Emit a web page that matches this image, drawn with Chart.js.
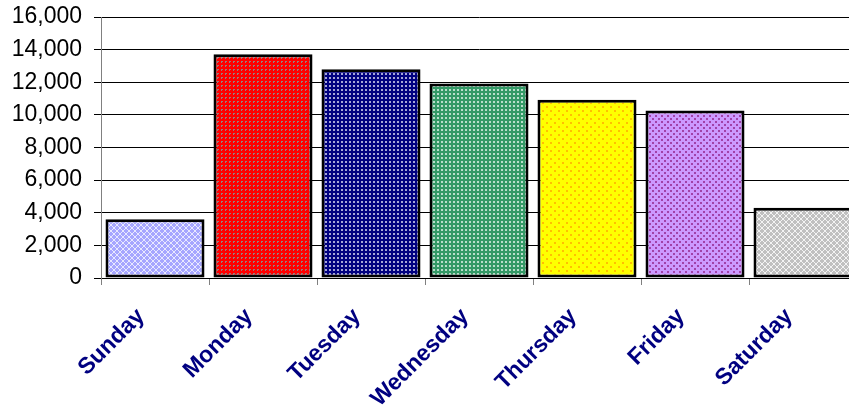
<!DOCTYPE html>
<html>
<head>
<meta charset="utf-8">
<script src="https://cdn.jsdelivr.net/npm/chart.js@4.4.0/dist/chart.umd.min.js"></script>
<style>
html,body{margin:0;padding:0;overflow:hidden;background:#fff;width:849px;height:410px;}
canvas{display:block;}
</style>
</head>
<body>
<canvas id="c" width="870" height="410" style="width:870px;height:410px"></canvas>
<script>
const categories = ["Sunday","Monday","Tuesday","Wednesday","Thursday","Friday","Saturday"];
const values = [3600, 13720, 12800, 11920, 10920, 10270, 4300];
const yTicks = [0, 2000, 4000, 6000, 8000, 10000, 12000, 14000, 16000];
const baseColors = ["#A6A6FF","#FF0000","#000080","#339966","#FFFF00","#CC99FF","#C0C0C0"];
const dotColors  = ["#FFFFFF","#8C8C8C","#B8B8E0","#C8E6D6","#FFB000","#993399","#FFFFFF"];

function tile(size, base, fg, cells, alpha){
  const c = document.createElement('canvas');
  c.width = size; c.height = size;
  const g = c.getContext('2d');
  g.fillStyle = base; g.fillRect(0,0,size,size);
  g.globalAlpha = alpha;
  g.fillStyle = fg;
  cells.forEach(p => g.fillRect(p[0],p[1],p[2]||1,p[3]||1));
  return g.createPattern(c,'repeat');
}
function patterns(){
  return [
    tile(6, baseColors[0], dotColors[0], [[0,0],[5,0],[1,1],[4,1],[2,2,2,2],[1,4],[4,4],[0,5],[5,5]], 0.75),
    tile(4, baseColors[1], dotColors[1], [[1,1,2,1],[1,2,1,1]], 0.9),
    tile(4, baseColors[2], dotColors[2], [[1,1,2,2]], 0.9),
    tile(4, baseColors[3], dotColors[3], [[1,1,2,2]], 0.9),
    tile(8, baseColors[4], dotColors[4], [[2,2,2,2],[6,6,2,2]], 0.8),
    tile(6, baseColors[5], dotColors[5], [[1,1,2,2],[4,4,2,2]], 0.85),
    tile(6, baseColors[6], dotColors[6], [[0,0],[5,0],[1,1],[4,1],[2,2,2,2],[1,4],[4,4],[0,5],[5,5]], 0.8)
  ];
}

new Chart(document.getElementById('c'), {
  type: 'bar',
  data: {
    labels: categories,
    datasets: [{
      data: values,
      backgroundColor: patterns(),
      borderColor: '#000',
      borderWidth: 3,
      borderSkipped: false,
      barPercentage: 0.917,
      categoryPercentage: 1.0
    }]
  },
  options: {
    responsive: false,
    animation: false,
    events: [],
    layout: { padding: { top: 17, right: 13, left: 0, bottom: 0 } },
    plugins: { legend: { display: false }, tooltip: { enabled: false } },
    scales: {
      x: {
        offset: true,
        grid: { offset: true, drawOnChartArea: false, drawTicks: true, tickLength: 7, color: '#808080' },
        border: { color: '#000', width: 1 },
        ticks: {
          autoSkip: false,
          maxRotation: 45, minRotation: 45,
          color: '#000080',
          font: { family: 'Liberation Sans, Arial, sans-serif', size: 23, weight: 'bold' },
          padding: 18,
          labelOffset: -14
        },
        afterFit: s => { s.height = 132; s.paddingLeft = 0; s.paddingRight = 0; }
      },
      y: {
        min: 0, max: 16000,
        afterBuildTicks: s => { s.ticks = yTicks.map(v => ({ value: v })); },
        grid: { color: '#000', lineWidth: 1, tickLength: 7, drawTicks: true },
        border: { color: '#808080', width: 1 },
        ticks: {
          color: '#000',
          font: { family: 'Liberation Sans, Arial, sans-serif', size: 23 },
          padding: 12,
          callback: v => v.toLocaleString('en-US')
        },
        afterFit: s => { s.width = 101; s.paddingTop = 0; s.paddingBottom = 0; }
      }
    }
  }
});
</script>
</body>
</html>
